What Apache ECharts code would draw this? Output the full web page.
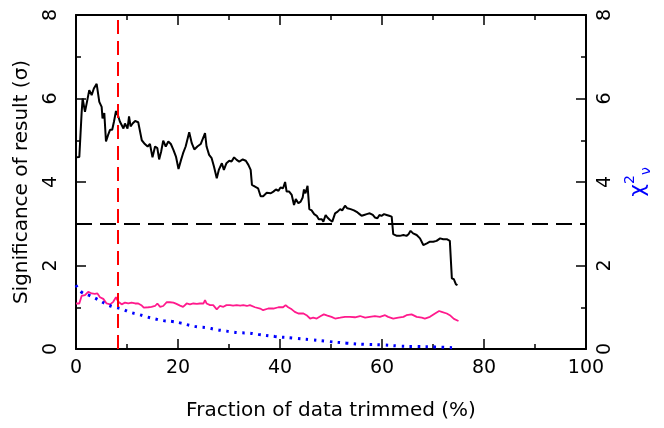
<!DOCTYPE html>
<html>
<head>
<meta charset="utf-8">
<script src="https://cdn.jsdelivr.net/npm/echarts@6/dist/echarts.min.js"></script>
<style>
html,body{margin:0;padding:0;background:#fff;}
#chart{width:664px;height:428px;}
</style>
</head>
<body>
<div id="chart"></div>
<script>
// Significance (sigma) vs fraction trimmed
const sigX = [0.0,0.65,1.1,1.3,1.76,2.2,2.6,3.07,3.5,4.05,4.57,5.03,5.2,5.55,5.88,6.3,6.67,7.1,7.45,7.84,8.3,8.6,8.95,9.3,9.6,10.1,10.4,10.7,11.1,11.6,12.2,12.9,13.5,14.05,14.5,15.0,15.5,15.95,16.3,16.7,17.1,17.6,18.1,18.6,19.1,19.6,20.1,20.6,21.0,21.5,22.2,22.7,23.2,23.8,24.45,24.8,25.3,25.6,26.1,26.6,27.05,27.6,28.0,28.6,29.0,29.5,30.05,30.5,31.0,31.5,32.0,32.7,33.3,33.8,34.25,34.5,35.1,35.7,36.2,36.7,37.4,38.2,38.7,39.2,39.7,40.1,40.6,41.0,41.3,41.8,42.3,42.75,43.1,43.6,44.05,44.45,44.7,45.0,45.4,45.75,46.2,46.7,47.2,47.6,48.2,48.5,48.95,49.3,49.8,50.25,50.8,51.3,51.8,52.2,52.75,53.2,53.85,54.5,55.2,55.6,56.0,56.5,57.0,57.6,58.2,58.6,59.1,59.5,59.9,60.4,60.9,61.4,61.9,62.2,62.9,63.5,64.2,64.8,65.2,65.6,66.1,66.8,67.45,68.1,68.8,69.4,70.05,70.7,71.4,72.0,72.7,73.3,73.55,73.7,74.1,74.5,74.8];
const sigY = [4.59,4.6,5.65,6.0,5.68,5.95,6.2,6.08,6.24,6.35,5.92,5.8,5.52,5.65,4.97,5.13,5.25,5.25,5.45,5.7,5.57,5.45,5.48,5.28,5.4,5.28,5.57,5.33,5.4,5.46,5.43,5.0,4.91,4.85,4.91,4.59,4.85,4.81,4.54,4.73,4.99,4.85,4.97,4.91,4.77,4.61,4.31,4.53,4.69,4.85,5.19,4.93,4.78,4.85,4.91,4.89,5.17,4.85,4.65,4.57,4.37,4.09,4.29,4.45,4.29,4.45,4.51,4.49,4.59,4.53,4.49,4.54,4.51,4.41,4.29,3.93,3.89,3.85,3.66,3.66,3.74,3.73,3.77,3.82,3.79,3.87,3.85,4.0,3.77,3.77,3.69,3.45,3.59,3.49,3.53,3.63,3.82,3.73,3.91,3.35,3.32,3.23,3.19,3.11,3.11,3.05,3.21,3.15,3.09,3.05,3.25,3.29,3.35,3.32,3.43,3.37,3.35,3.32,3.27,3.23,3.19,3.21,3.23,3.25,3.21,3.15,3.13,3.21,3.19,3.23,3.21,3.19,3.17,2.75,2.71,2.71,2.73,2.71,2.75,2.83,2.77,2.73,2.65,2.49,2.53,2.57,2.57,2.59,2.65,2.63,2.63,2.59,2.59,1.69,1.67,1.55,1.53];

// Reduced chi-square (pink)
const chiX = [0.0,0.65,1.1,1.76,2.4,3.07,3.7,4.2,4.7,5.35,6.0,6.7,7.3,7.84,8.3,8.95,9.6,10.25,10.9,11.6,12.2,12.9,13.3,14.2,14.8,15.5,15.95,16.5,17.1,17.8,18.4,19.1,19.7,20.4,21.0,21.7,22.35,23.0,23.7,24.3,25.0,25.3,25.6,26.3,26.9,27.6,28.2,28.9,29.5,30.2,30.8,31.5,32.2,32.8,33.5,34.1,35.1,36.1,36.7,37.7,38.7,39.7,40.6,41.1,41.6,42.3,42.9,43.6,44.6,45.2,45.9,46.5,47.2,48.0,48.6,49.3,50.1,50.8,51.8,52.75,53.7,54.7,55.7,56.7,57.6,58.6,59.6,60.6,61.2,62.2,63.2,64.2,64.8,65.8,66.8,67.8,68.4,69.4,70.4,71.2,71.7,72.7,73.3,74.1,75.0];
const chiY = [1.09,1.09,1.27,1.29,1.37,1.33,1.32,1.33,1.24,1.2,1.09,1.07,1.13,1.24,1.13,1.07,1.11,1.09,1.11,1.09,1.09,1.04,0.99,1.0,1.01,1.03,1.09,1.01,1.03,1.12,1.12,1.11,1.08,1.04,1.01,1.09,1.07,1.09,1.08,1.09,1.09,1.17,1.09,1.05,1.05,0.95,1.03,1.01,1.05,1.05,1.04,1.05,1.04,1.05,1.03,1.05,1.0,0.97,0.93,0.97,0.97,1.0,1.0,1.05,1.0,0.95,0.89,0.85,0.85,0.81,0.73,0.75,0.73,0.79,0.83,0.8,0.77,0.73,0.75,0.77,0.77,0.76,0.79,0.75,0.77,0.79,0.77,0.81,0.77,0.73,0.75,0.77,0.81,0.83,0.77,0.75,0.73,0.77,0.85,0.91,0.89,0.85,0.81,0.72,0.67];

// Blue dotted curve
const blueX = [0.0,1.1,2.7,4.2,5.7,7.3,8.95,10.6,12.2,13.9,15.5,17.1,18.9,20.6,22.2,23.9,25.6,27.3,28.9,30.6,32.3,34.0,35.7,39.0,42.6,46.2,49.5,53.1,56.7,59.9,63.5,66.8,70.4,74.0];
const blueY = [1.53,1.36,1.28,1.19,1.09,1.01,0.96,0.88,0.83,0.77,0.72,0.68,0.66,0.62,0.57,0.53,0.51,0.47,0.44,0.41,0.39,0.38,0.35,0.30,0.26,0.22,0.18,0.14,0.11,0.10,0.07,0.06,0.05,0.03];

const thresholdSigma = 3;
const markerX = 8.2;
const xTicks = [0,20,40,60,80,100];
const yTicks = [0,2,4,6,8];

const zip = (a,b) => a.map((v,i)=>[v,b[i]]);
const FONT = 'DejaVu Sans';

const chart = echarts.init(document.getElementById('chart'), null, {renderer:'canvas'});

const baseTick = {show:true, inside:true, length:10, lineStyle:{color:'#000', width:1.5}};
const baseMinor = {show:true, splitNumber:2, length:5, lineStyle:{color:'#000', width:1.5}};
const baseLine = {show:true, onZero:false, lineStyle:{color:'#000', width:2}};

const option = {
  animation:false,
  backgroundColor:'#fff',
  grid:{left:76, right:78, top:15, bottom:79},
  xAxis:[
    {type:'value', min:xTicks[0], max:xTicks[xTicks.length-1], interval:20, position:'bottom',
     axisLine:baseLine, axisTick:baseTick, minorTick:baseMinor, splitLine:{show:false},
     axisLabel:{color:'#000', fontSize:19, fontFamily:FONT, margin:10},
     name:'Fraction of data trimmed (%)', nameLocation:'middle', nameGap:52,
     nameTextStyle:{color:'#000', fontSize:20, fontFamily:FONT}},
    {type:'value', min:0, max:100, interval:20, position:'top',
     axisLine:baseLine, axisTick:baseTick, minorTick:baseMinor, splitLine:{show:false},
     axisLabel:{show:false}}
  ],
  yAxis:[
    {type:'value', min:yTicks[0], max:yTicks[yTicks.length-1], interval:2, position:'left',
     axisLine:baseLine, axisTick:baseTick, minorTick:baseMinor, splitLine:{show:false},
     axisLabel:{color:'#000', fontSize:19, fontFamily:FONT, margin:15, rotate:90},
     name:'Significance of result (σ)', nameLocation:'middle', nameGap:44, nameRotate:90,
     nameTextStyle:{color:'#000', fontSize:20, fontFamily:FONT}},
    {type:'value', min:0, max:8, interval:2, position:'right',
     axisLine:baseLine, axisTick:baseTick, minorTick:baseMinor, splitLine:{show:false},
     axisLabel:{color:'#000', fontSize:19, fontFamily:FONT, margin:10, rotate:90},
     name:'{a|χ}{b|2}{c|ν}', nameLocation:'middle', nameGap:30, nameRotate:90,
     nameTextStyle:{color:'#0000ff', fontFamily:FONT,
       rich:{
         a:{fontSize:22, color:'#0000ff', fontFamily:FONT, lineHeight:30, verticalAlign:'middle'},
         b:{fontSize:14, color:'#0000ff', fontFamily:FONT, lineHeight:30, verticalAlign:'top'},
         c:{fontSize:14, color:'#0000ff', fontFamily:FONT, lineHeight:30, verticalAlign:'bottom'}
       }}}
  ],
  series:[
    {type:'line', name:'sigma', data:zip(sigX,sigY), showSymbol:false, symbol:'none',
     lineStyle:{color:'#000', width:2}, z:3,
     markLine:{silent:true, symbol:'none', label:{show:false}, animation:false,
       data:[
         {yAxis:thresholdSigma, lineStyle:{color:'#000', width:2, type:[16,8]}},
         {xAxis:markerX, lineStyle:{color:'#ff0000', width:2, type:[14,7]}}
       ]}},
    {type:'line', name:'chi2', data:zip(chiX,chiY), showSymbol:false, symbol:'none',
     lineStyle:{color:'#ff1a8c', width:1.8}, z:3},
    {type:'line', name:'blue', data:zip(blueX,blueY), showSymbol:false, symbol:'none', smooth:true,
     lineStyle:{color:'#0000ff', width:3, type:[2.5,5.5]}, z:3}
  ]
};
chart.setOption(option);
</script>
</body>
</html>
